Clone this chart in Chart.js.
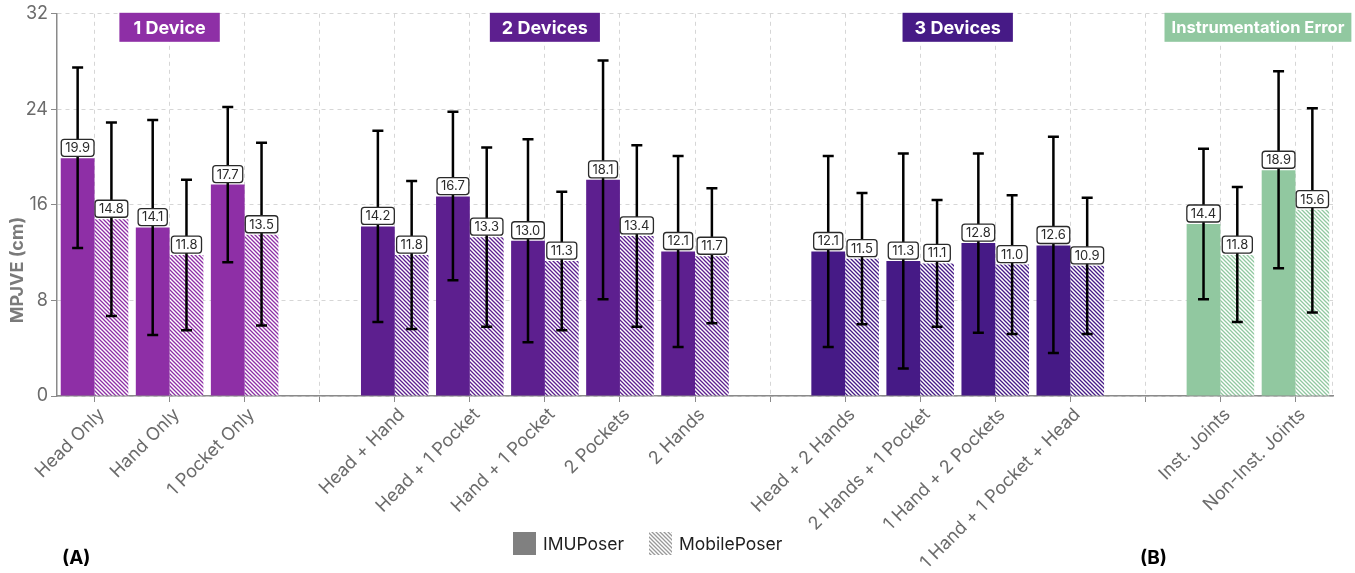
<!DOCTYPE html>
<html>
<head>
<meta charset="utf-8">
<script src="https://cdn.jsdelivr.net/npm/chart.js@4.4.1/dist/chart.umd.min.js"></script>
<style>
  html, body { margin: 0; padding: 0; background: #fff; }
  #wrap { width: 1355px; height: 573px; }
</style>
</head>
<body>
<div id="wrap"><canvas id="chart" width="1355" height="573"></canvas></div>
<script>
// categories ('' = spacer between groups)
const categories = [
  "Head Only", "Hand Only", "1 Pocket Only", "",
  "Head + Hand", "Head + 1 Pocket", "Hand + 1 Pocket", "2 Pockets", "2 Hands", "",
  "Head + 2 Hands", "2 Hands + 1 Pocket", "1 Hand + 2 Pockets", "1 Hand + 1 Pocket + Head", "",
  "Inst. Joints", "Non-Inst. Joints"
];

const imuMean = [19.9, 14.1, 17.7, null, 14.2, 16.7, 13.0, 18.1, 12.1, null, 12.1, 11.3, 12.8, 12.6, null, 14.4, 18.9];
const imuLow  = [12.4, 5.1, 11.2, null, 6.2, 9.7, 4.5, 8.1, 4.1, null, 4.1, 2.3, 5.3, 3.6, null, 8.1, 10.7];
const imuHigh = [27.5, 23.1, 24.2, null, 22.2, 23.8, 21.5, 28.1, 20.1, null, 20.1, 20.3, 20.3, 21.7, null, 20.7, 27.2];

const mobMean = [14.8, 11.8, 13.5, null, 11.8, 13.3, 11.3, 13.4, 11.7, null, 11.5, 11.1, 11.0, 10.9, null, 11.8, 15.6];
const mobLow  = [6.7, 5.5, 5.9, null, 5.6, 5.8, 5.5, 5.8, 6.1, null, 6.0, 5.8, 5.2, 5.2, null, 6.2, 7.0];
const mobHigh = [22.9, 18.1, 21.2, null, 18.0, 20.8, 17.1, 21.0, 17.4, null, 17.0, 16.4, 16.8, 16.6, null, 17.5, 24.1];

const groupNames = ["1 Device", "2 Devices", "3 Devices", "Instrumentation Error"];
const groupFirst = [0, 4, 10, 15];
const groupLast  = [2, 8, 13, 16];

const yTicks = [0, 8, 16, 24, 32];

// styles
const groupColors = ["#8e2fa6", "#5d1f8f", "#461a86", "#91c8a0"];
const groupFontSize = [18, 18, 18, 16.5];
const groupPad = [14, 12, 12, 7];
const FONT = "Inter, 'Liberation Sans', sans-serif";
const GRID = "#d6d6d6";
const AXIS = "#8a8a8a";
const TEXT = "#6b6b6b";

const ctx = document.getElementById("chart").getContext("2d");

function hatch(color) {
  const s = 4;
  const c = document.createElement("canvas");
  c.width = s; c.height = s;
  const g = c.getContext("2d");
  g.fillStyle = "#fff";
  g.fillRect(0, 0, s, s);
  g.strokeStyle = color;
  g.lineWidth = 1.3;
  g.beginPath();
  g.moveTo(-1, -1); g.lineTo(s + 1, s + 1);
  g.moveTo(-s - 1, -1); g.lineTo(1, s + 1);
  g.moveTo(s - 1, -1); g.lineTo(2 * s + 1, s + 1);
  g.stroke();
  return ctx.createPattern(c, "repeat");
}

function groupIndex(i) {
  for (let g = 0; g < groupFirst.length; g++) {
    if (i >= groupFirst[g] && i <= groupLast[g]) return g;
  }
  return 0;
}

const solidColors = categories.map((_, i) => groupColors[groupIndex(i)]);
const hatchColors = categories.map((_, i) => hatch(groupColors[groupIndex(i)]));

const lows = [imuLow, mobLow];
const highs = [imuHigh, mobHigh];

function roundRect(c, x, y, w, h, r) {
  c.beginPath();
  c.moveTo(x + r, y);
  c.lineTo(x + w - r, y);
  c.quadraticCurveTo(x + w, y, x + w, y + r);
  c.lineTo(x + w, y + h - r);
  c.quadraticCurveTo(x + w, y + h, x + w - r, y + h);
  c.lineTo(x + r, y + h);
  c.quadraticCurveTo(x, y + h, x, y + h - r);
  c.lineTo(x, y + r);
  c.quadraticCurveTo(x, y, x + r, y);
  c.closePath();
}

const extras = {
  id: "extras",
  beforeDatasetsDraw(chart) {
    const { ctx: c, chartArea: a } = chart;
    // dashed right edge
    c.save();
    c.strokeStyle = GRID;
    c.lineWidth = 1;
    c.setLineDash([4, 4]);
    c.beginPath();
    c.moveTo(a.right - 0.5, a.top);
    c.lineTo(a.right - 0.5, a.bottom);
    c.stroke();
    c.restore();
  },
  afterDatasetsDraw(chart) {
    const { ctx: c, chartArea: a, scales } = chart;
    const y = scales.y;
    const x = scales.x;
    c.save();
    // error bars
    c.strokeStyle = "#000";
    c.lineWidth = 2.5;
    chart.data.datasets.forEach((ds, di) => {
      chart.getDatasetMeta(di).data.forEach((bar, i) => {
        if (ds.data[i] == null) return;
        const yl = y.getPixelForValue(lows[di][i]);
        const yh = y.getPixelForValue(highs[di][i]);
        const cx = bar.x;
        c.beginPath();
        c.moveTo(cx, yl); c.lineTo(cx, yh);
        c.moveTo(cx - 5.5, yl); c.lineTo(cx + 5.5, yl);
        c.moveTo(cx - 5.5, yh); c.lineTo(cx + 5.5, yh);
        c.stroke();
      });
    });
    // value labels
    c.font = "13px " + FONT;
    c.textAlign = "center";
    c.textBaseline = "middle";
    chart.data.datasets.forEach((ds, di) => {
      chart.getDatasetMeta(di).data.forEach((bar, i) => {
        const v = ds.data[i];
        if (v == null) return;
        const t = v.toFixed(1);
        const w = c.measureText(t).width + 8;
        const h = 17;
        const bx = bar.x - w / 2;
        const by = bar.y - 2 - h;
        roundRect(c, bx, by, w, h, 3);
        c.fillStyle = "#fff";
        c.fill();
        c.lineWidth = 1.3;
        c.strokeStyle = "#2a2a2a";
        c.stroke();
        c.fillStyle = "#2a2a2a";
        c.fillText(t, bar.x, by + h / 2 + 0.5);
      });
    });
    // group headers
    groupNames.forEach((name, g) => {
      const cx = (x.getPixelForValue(groupFirst[g]) + x.getPixelForValue(groupLast[g])) / 2;
      c.font = "bold " + groupFontSize[g] + "px " + FONT;
      const w = c.measureText(name).width + groupPad[g] * 2;
      const h = 29;
      c.fillStyle = groupColors[g];
      c.fillRect(cx - w / 2, a.top - 1, w, h);
      c.fillStyle = "#fff";
      c.fillText(name, cx, a.top - 1 + h / 2 + 1);
    });
    c.restore();
  },
  afterDraw(chart) {
    const { ctx: c } = chart;
    c.save();
    // y axis title
    c.translate(18, 270);
    c.rotate(-Math.PI / 2);
    c.font = "bold 18px " + FONT;
    c.fillStyle = "#7a7a7a";
    c.textAlign = "center";
    c.textBaseline = "middle";
    c.fillText("MPJVE (cm)", 0, 0);
    c.restore();

    // legend
    c.save();
    const ly = 532, sz = 23;
    c.fillStyle = "#808080";
    c.fillRect(513, ly, sz, sz);
    c.fillStyle = hatch("#999999");
    c.fillRect(649, ly, sz, sz);
    c.font = "17.5px " + FONT;
    c.fillStyle = "#1e1e1e";
    c.textBaseline = "middle";
    c.textAlign = "left";
    c.fillText("IMUPoser", 543, ly + sz / 2 + 1);
    c.fillText("MobilePoser", 679, ly + sz / 2 + 1);
    // panel letters
    c.font = "bold 19px " + FONT;
    c.fillStyle = "#000";
    c.fillText("(A)", 62, 558);
    c.fillText("(B)", 1140, 558);
    c.restore();
  }
};

new Chart(ctx, {
  type: "bar",
  data: {
    labels: categories,
    datasets: [
      { label: "IMUPoser", data: imuMean, backgroundColor: solidColors, borderWidth: 0 },
      { label: "MobilePoser", data: mobMean, backgroundColor: hatchColors, borderWidth: 0 }
    ]
  },
  options: {
    responsive: false,
    animation: false,
    layout: { padding: { top: 13, right: 22, left: 0, bottom: 0 } },
    datasets: { bar: { categoryPercentage: 0.9, barPercentage: 1.0 } },
    plugins: { legend: { display: false }, tooltip: { enabled: false } },
    scales: {
      x: {
        grid: { color: GRID, offset: false, tickColor: AXIS, tickLength: 6, tickBorderDash: [] },
        border: { color: AXIS, width: 1.5, dash: [4, 4] },
        ticks: {
          color: TEXT, font: { family: FONT, size: 18 },
          minRotation: 45, maxRotation: 45, autoSkip: false, padding: 2, labelOffset: 7
        },
        afterFit: (s) => { s.height = 177; }
      },
      y: {
        min: 0, max: 32,
        afterBuildTicks: (s) => { s.ticks = yTicks.map((v) => ({ value: v })); },
        grid: { color: GRID, tickColor: AXIS, tickLength: 6, tickBorderDash: [] },
        border: { color: AXIS, width: 1.5, dash: [4, 4] },
        ticks: { color: TEXT, font: { family: FONT, size: 18 }, padding: 3 },
        afterFit: (s) => { s.width = 57; }
      }
    }
  },
  plugins: [extras]
});
</script>
</body>
</html>
